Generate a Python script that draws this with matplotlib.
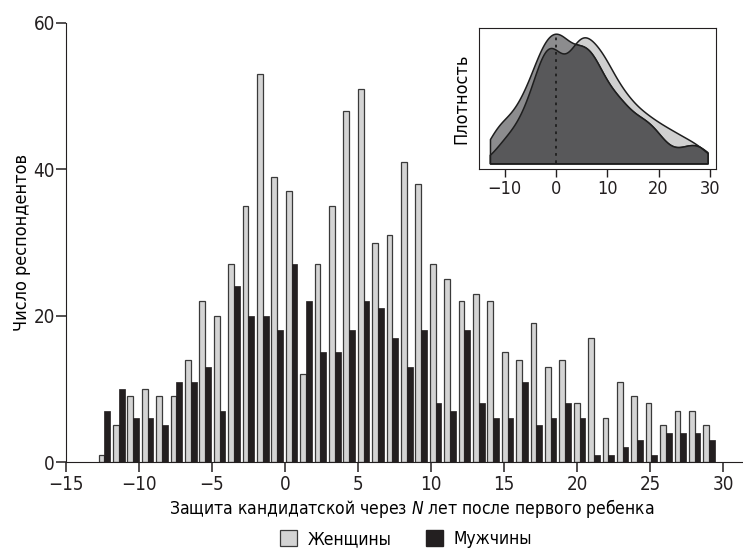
import numpy as np
import matplotlib
matplotlib.use("Agg")
import matplotlib.pyplot as plt
from matplotlib.patches import Patch

plt.rcParams['font.family'] = ['DejaVu Sans']
plt.rcParams['font.stretch'] = 'condensed'
plt.rcParams['mathtext.fontset'] = 'custom'
plt.rcParams['mathtext.it'] = 'DejaVu Sans:italic'
plt.rcParams['mathtext.rm'] = 'DejaVu Sans'

# range of the data (years) and counts per histogram bin
data_lo = -12.86
data_hi = 29.54
women = [1, 5, 9, 10, 9, 9, 14, 22, 20, 27, 35, 53, 39, 37, 12, 27, 35, 48, 51, 30, 31,
         41, 38, 27, 25, 22, 23, 22, 15, 14, 19, 13, 14, 8, 17, 6, 11, 9, 8, 5, 7, 7, 5]
men = [7, 10, 6, 6, 5, 11, 11, 13, 7, 24, 20, 20, 18, 27, 22, 15, 15, 18, 22, 21, 17,
       13, 18, 8, 7, 18, 8, 6, 6, 11, 5, 6, 8, 6, 1, 1, 2, 3, 1, 4, 4, 4, 3]
labels = ['Женщины', 'Мужчины']

women = np.array(women)
men = np.array(men)
edges = np.linspace(data_lo, data_hi, len(women) + 1)
centers = (edges[:-1] + edges[1:]) / 2
bw = (edges[1] - edges[0]) * 0.4

c_light = '#d4d4d4'
c_black = '#231f20'
c_edge = '#3a3a3a'

fig = plt.figure(figsize=(7.43, 5.48), dpi=100)
ax = fig.add_axes([66 / 743, 1 - 462 / 548, 677 / 743, 439 / 548])
ax.bar(centers - bw / 2, women, width=bw, color=c_light, edgecolor=c_edge, linewidth=0.9)
ax.bar(centers + bw / 2, men, width=bw, color=c_black, edgecolor=c_black, linewidth=0.5)
ax.set_xlim(-15, 31.37)
ax.set_ylim(0, 60)
ax.set_xticks(np.arange(-15, 31, 5))
ax.set_yticks([0, 20, 40, 60])
for s in ['top', 'right']:
    ax.spines[s].set_visible(False)
ax.spines['left'].set_bounds(0, 60)
ax.spines['left'].set_color('#231f20')
ax.spines['bottom'].set_color('#231f20')
ax.tick_params(length=7, width=1.1, labelsize=13.5, pad=2, colors='#231f20')
ax.tick_params(axis='y', pad=1)
ax.set_ylabel('Число респондентов', fontsize=13, labelpad=2)
fig.text(412 / 743, 1 - 509 / 548, 'Защита кандидатской через $\\mathit{N}$ лет после первого ребенка',
         ha='center', va='center', fontsize=12.5)

handles = [Patch(facecolor=c_light, edgecolor=c_edge, linewidth=0.9),
           Patch(facecolor=c_black, edgecolor=c_black)]
fig.legend(handles, labels, loc='center', bbox_to_anchor=(406 / 743, 1 - 539 / 548), ncol=2,
           frameon=False, fontsize=12.5, handlelength=1.0, handleheight=1.0, columnspacing=2.0,
           handletextpad=0.6, borderpad=0)

# inset: smoothed densities from the binned counts
grid = np.linspace(data_lo, data_hi, 400)
kbw = 2.2


def density(counts):
    k = np.exp(-0.5 * ((grid[:, None] - centers[None, :]) / kbw) ** 2)
    d = (k * counts[None, :]).sum(axis=1)
    return d / (counts.sum() * kbw * np.sqrt(2 * np.pi))


dw = density(women)
dm = density(men)
top = max(dw.max(), dm.max())

ins = fig.add_axes([479 / 743, 1 - 169 / 548, 237 / 743, 141 / 548])
ins.fill_between(grid, 0, dw, color='#d0d0d0', edgecolor='#1e1e1e', linewidth=1.1)
ins.fill_between(grid, 0, dm, color='#8c8c8e', edgecolor='#1e1e1e', linewidth=1.1)
ins.fill_between(grid, 0, np.minimum(dw, dm), color='#58585a', edgecolor='#1e1e1e', linewidth=1.1)
ins.plot([0, 0], [0, np.interp(0, grid, dm)], color='#1e1e1e', linestyle=(0, (1.5, 2.5)), linewidth=1.3)
ins.set_xlim(-15, 31.2)
ins.set_ylim(-0.044 * top, 1.044 * top)
ins.set_yticks([])
ins.set_xticks([-10, 0, 10, 20, 30])
ins.tick_params(length=6, width=1.0, labelsize=13, pad=2, colors='#231f20')
for s in ins.spines.values():
    s.set_color('#231f20')
ins.set_ylabel('Плотность', fontsize=13, labelpad=6)

fig.savefig('out.png', dpi=100)
